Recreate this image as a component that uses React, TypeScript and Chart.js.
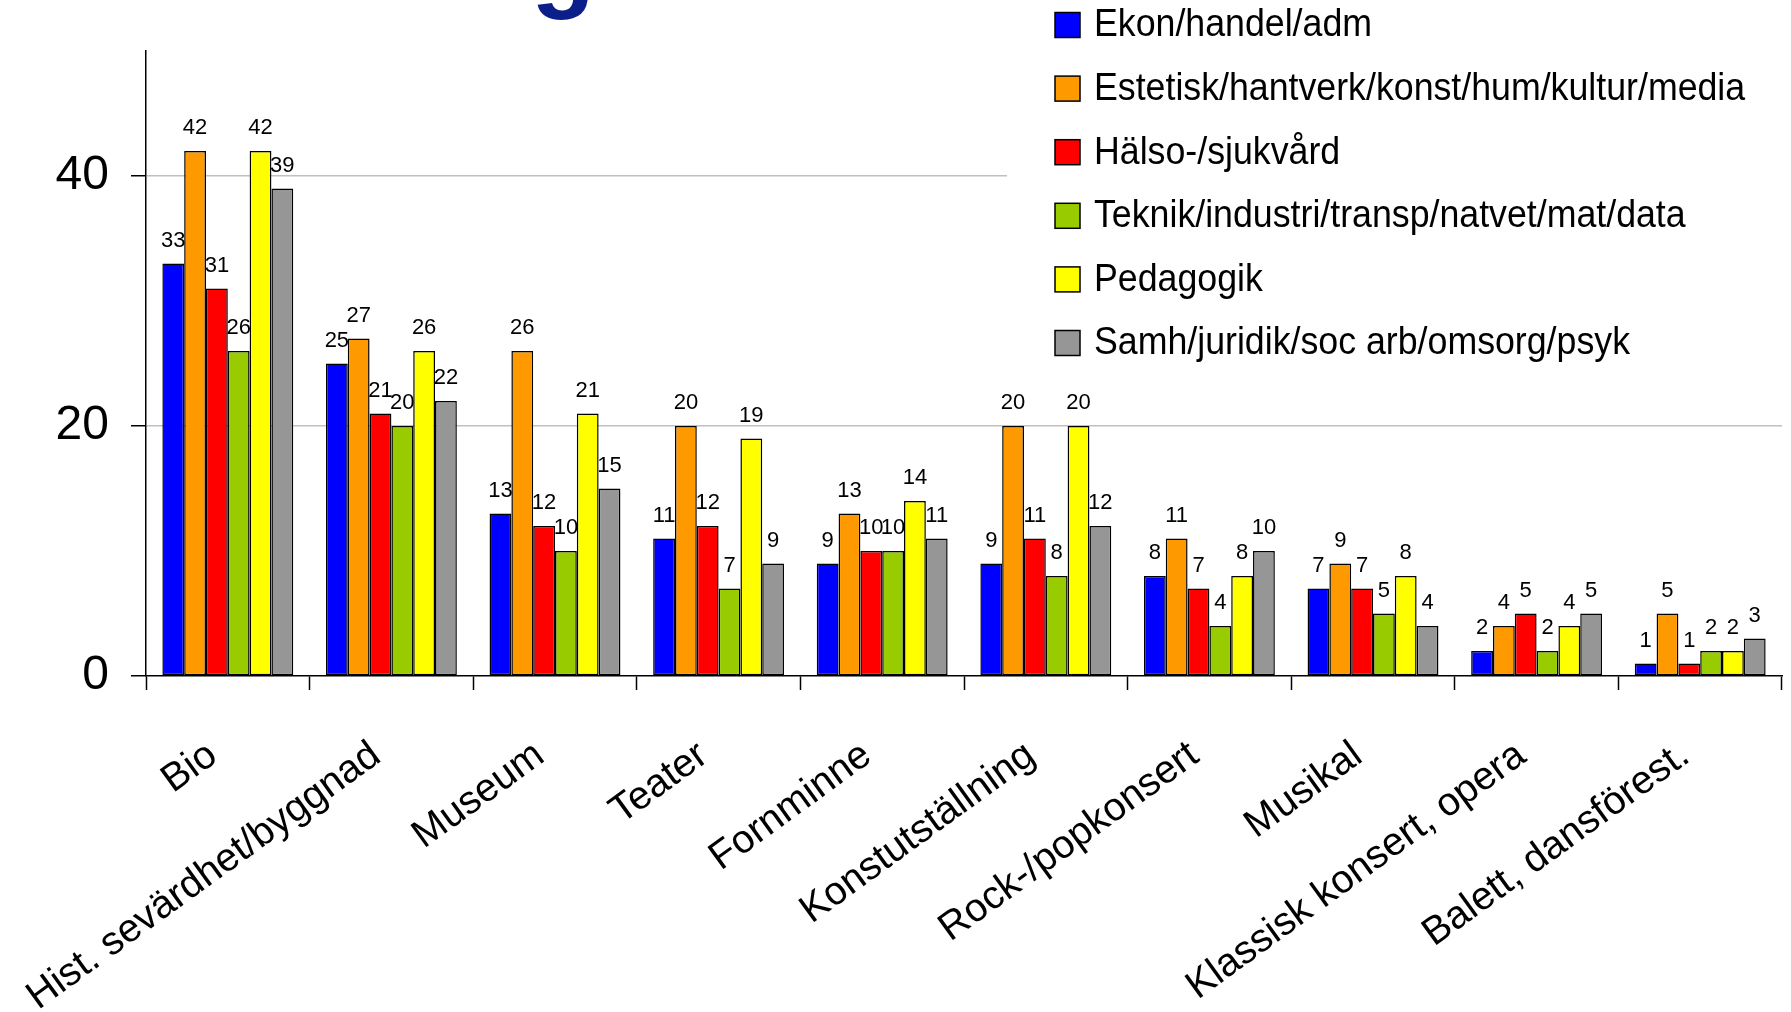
import React, { useEffect, useRef } from "react";
import { Chart, registerables } from "chart.js";

Chart.register(...registerables);

const categories = [
  "Bio",
  "Hist. sevärdhet/byggnad",
  "Museum",
  "Teater",
  "Fornminne",
  "Konstutställning",
  "Rock-/popkonsert",
  "Musikal",
  "Klassisk konsert, opera",
  "Balett, dansförest.",
];

const seriesNames = [
  "Ekon/handel/adm",
  "Estetisk/hantverk/konst/hum/kultur/media",
  "Hälso-/sjukvård",
  "Teknik/industri/transp/natvet/mat/data",
  "Pedagogik",
  "Samh/juridik/soc arb/omsorg/psyk",
];

const ekon = [33, 25, 13, 11, 9, 9, 8, 7, 2, 1];
const estetisk = [42, 27, 26, 20, 13, 20, 11, 9, 4, 5];
const halso = [31, 21, 12, 12, 10, 11, 7, 7, 5, 1];
const teknik = [26, 20, 10, 7, 10, 8, 4, 5, 2, 2];
const pedagogik = [42, 26, 21, 19, 14, 20, 8, 8, 4, 2];
const samh = [39, 22, 15, 9, 11, 12, 10, 4, 5, 3];

const yTickValues = [0, 20, 40];
const titleFragment = "g";

const seriesValues = [ekon, estetisk, halso, teknik, pedagogik, samh];
const seriesColors = ["#0000FF", "#FF9900", "#FF0000", "#99CC00", "#FFFF00", "#969696"];

const FONT = '"Liberation Sans", Arial, sans-serif';

const barValuePlugin = {
  id: "barValues",
  afterDatasetsDraw(chart: any) {
    const ctx = chart.ctx;
    ctx.save();
    ctx.font = `22px ${FONT}`;
    ctx.fillStyle = "#000";
    ctx.textAlign = "center";
    ctx.textBaseline = "middle";
    chart.data.datasets.forEach((ds: any, i: number) => {
      const meta = chart.getDatasetMeta(i);
      meta.data.forEach((el: any, j: number) => {
        ctx.fillText(String(ds.data[j]), el.x, el.y - 23);
      });
    });
    ctx.restore();
  },
};

const legendPlugin = {
  id: "sideLegend",
  beforeDatasetsDraw(chart: any) {
    const ctx = chart.ctx;
    ctx.save();
    ctx.fillStyle = "#fff";
    ctx.fillRect(1007, 0, chart.width - 1007, 385);
    chart.data.datasets.forEach((ds: any, i: number) => {
      const cy = 25 + i * 63.6;
      ctx.fillStyle = ds.backgroundColor;
      ctx.fillRect(1055, cy - 12.5, 25, 25);
      ctx.strokeStyle = "#000";
      ctx.lineWidth = 1.5;
      ctx.strokeRect(1055, cy - 12.5, 25, 25);
      ctx.save();
      ctx.translate(1094, cy + 1);
      ctx.scale(0.94, 1);
      ctx.font = `38px ${FONT}`;
      ctx.textAlign = "left";
      ctx.textBaseline = "middle";
      ctx.fillStyle = "#000";
      ctx.fillText(ds.label, 0, 0);
      ctx.restore();
    });
    ctx.restore();
  },
  afterDraw(chart: any) {
    const ctx = chart.ctx;
    ctx.save();
    ctx.font = `bold 105px ${FONT}`;
    ctx.fillStyle = "#0B1E8A";
    ctx.textAlign = "left";
    ctx.textBaseline = "alphabetic";
    ctx.fillText(titleFragment, 531, -2);
    ctx.restore();
  },
};

export default function App() {
  const canvasRef = useRef<HTMLCanvasElement | null>(null);

  useEffect(() => {
    const canvas = canvasRef.current;
    if (!canvas) return;
    const chart = new Chart(canvas, {
      type: "bar",
      data: {
        labels: categories,
        datasets: seriesNames.map((name, i) => ({
          label: name,
          data: seriesValues[i],
          backgroundColor: seriesColors[i],
          borderColor: "#000",
          borderWidth: 1.5,
          borderSkipped: false,
          categoryPercentage: 0.8,
          barPercentage: 1.0,
        })),
      },
      options: {
        responsive: false,
        animation: false,
        devicePixelRatio: 1,
        layout: { padding: { top: 51, right: 9, left: 0, bottom: 0 } },
        plugins: {
          legend: { display: false },
          title: { display: false },
          tooltip: { enabled: false },
        },
        scales: {
          x: {
            offset: true,
            grid: {
              display: true,
              drawOnChartArea: false,
              drawTicks: true,
              tickLength: 14,
              tickColor: "#000",
              tickWidth: 1.5,
              color: "#000",
            },
            border: { display: true, color: "#000", width: 1.5 },
            ticks: {
              autoSkip: false,
              minRotation: 36,
              maxRotation: 36,
              padding: 42,
              labelOffset: -15,
              color: "#000",
              font: { family: FONT, size: 39.5 },
            },
            afterFit: (s: any) => {
              s.height = 1012 - 676;
            },
          },
          y: {
            min: 0,
            max: 50,
            afterBuildTicks: (axis: any) => {
              axis.ticks = yTickValues.map((v) => ({ value: v }));
            },
            grid: {
              color: (c: any) => (c.tick && c.tick.value === 0 ? "rgba(0,0,0,0)" : "#C0C0C0"),
              lineWidth: 1.5,
              tickLength: 15,
              tickColor: "#000",
              tickWidth: 1.5,
            },
            border: { display: true, color: "#000", width: 1.5 },
            ticks: {
              padding: 22,
              color: "#000",
              font: { family: FONT, size: 48 },
            },
            afterFit: (s: any) => {
              s.width = 146;
            },
          },
        },
      },
      plugins: [legendPlugin, barValuePlugin],
    });
    return () => chart.destroy();
  }, []);

  return (
    <div style={{ position: "fixed", left: 0, top: 0, width: 1791, height: 1012, background: "#fff" }}>
      <canvas ref={canvasRef} width={1791} height={1012} style={{ display: "block" }} />
    </div>
  );
}
